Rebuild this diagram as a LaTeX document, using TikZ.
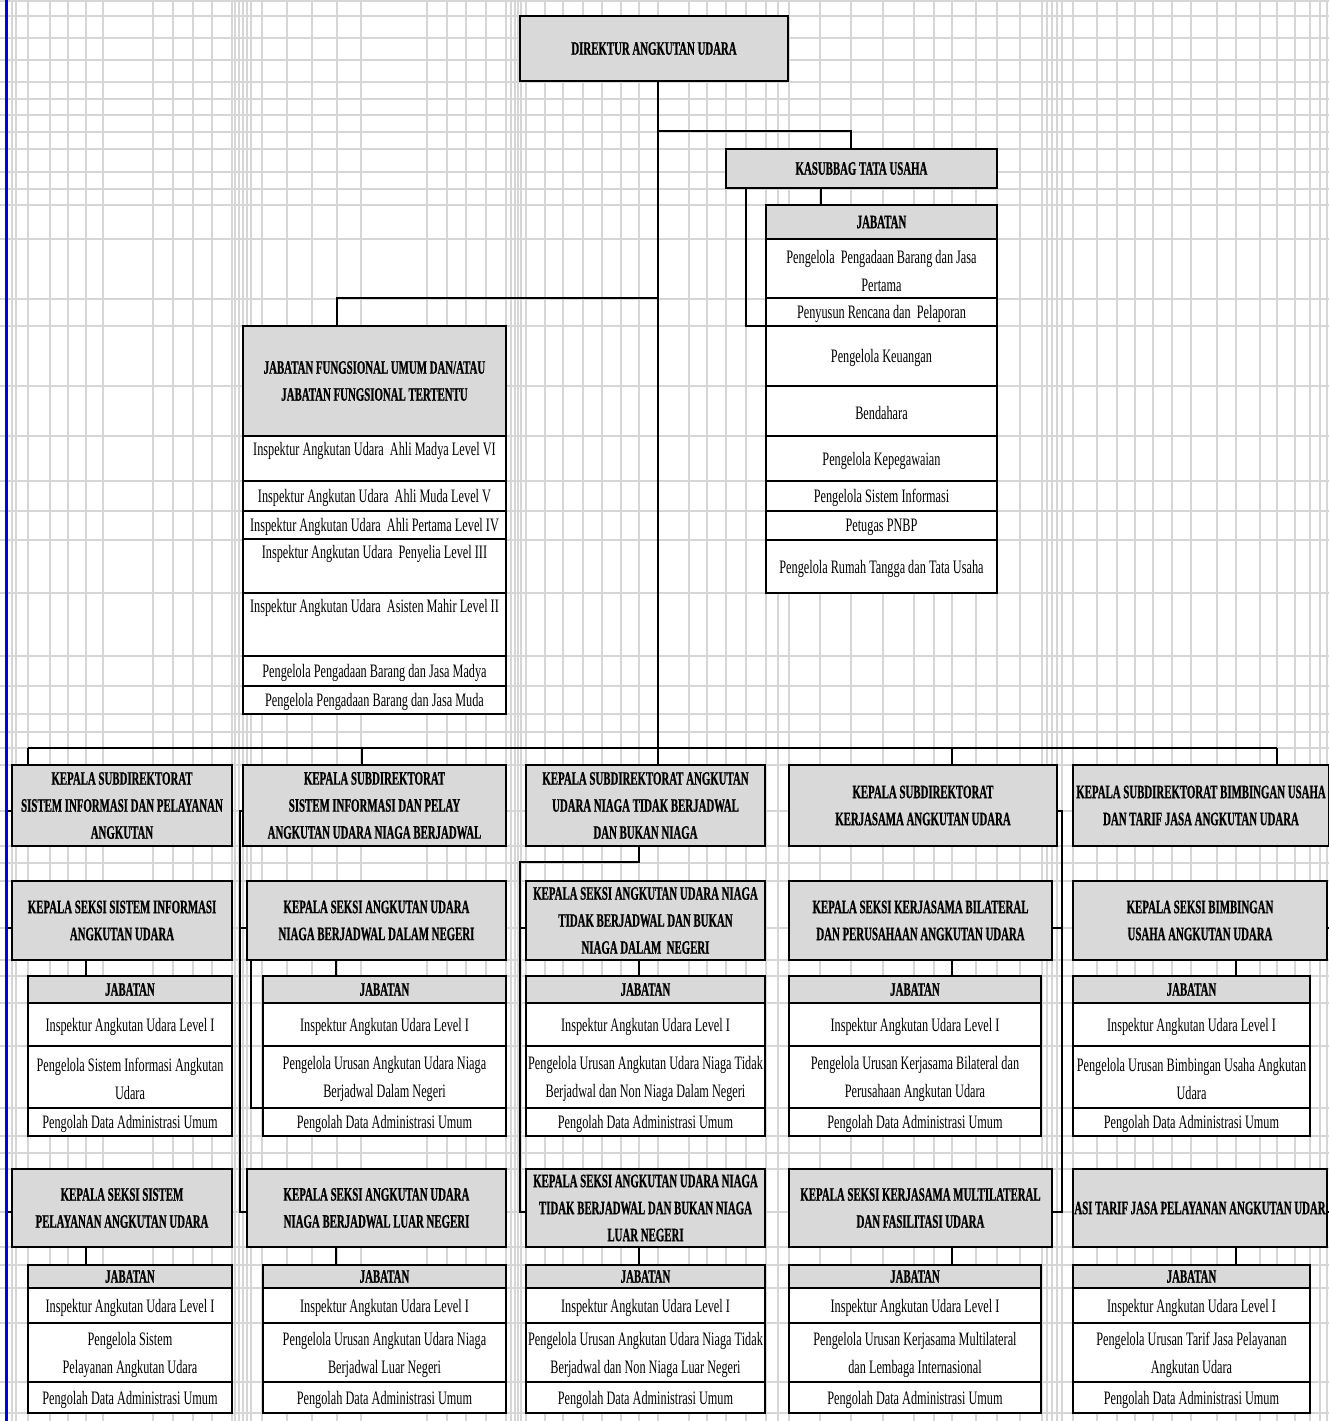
\documentclass[tikz,border=0pt]{standalone}
\usepackage{fontspec}
\setmainfont{Liberation Serif}[FakeStretch=0.645]
\newfontfamily\headfont{Liberation Serif}[FakeStretch=0.57, FakeBold=0.8]
\usetikzlibrary{fit}

\definecolor{boxgray}{RGB}{217,217,217}
\definecolor{gridgray}{RGB}{214,214,214}
\definecolor{breakblue}{RGB}{0,0,225}

\tikzset{
  gridln/.style={draw=gridgray, line width=0.6pt},
  boxbase/.style={draw=black, line width=1pt, inner sep=0pt, outer sep=0pt},
  headbox/.style={boxbase, fill=boxgray},
  itembox/.style={boxbase, fill=white},
  headtext/.style={anchor=center, inner sep=0pt, align=center,
    font=\headfont\bfseries\fontsize{9.5pt}{13.5pt}\selectfont},
  itemtext/.style={anchor=center, inner sep=0pt, align=center, yshift=-1pt,
    font=\fontsize{9.5pt}{14pt}\selectfont},
  link/.style={draw=black, line width=0.85pt},
  pagebreak/.style={draw=breakblue, line width=1.2pt},
}

% cell boxes: name, x1, y1, x2, y2 (pixel grid), text
\newcommand\orghead[6]{\node[headbox, fit={(#2,#3)(#4,#5)},
  label={[headtext]center:#6}] (#1) {};}
\newcommand\orgitem[6]{\node[itembox, fit={(#2,#3)(#4,#5)},
  label={[itemtext]center:#6}] (#1) {};}
\newcommand\orgitemtop[6]{\node[itembox, fit={(#2,#3)(#4,#5)},
  label={[itemtext, yshift=-6.5pt]north:#6}] (#1) {};}

% staff tables under the section heads
\newcommand\orgtableA[4]{%
  \orghead{#1}{#2}{976}{#3}{1003}{JABATAN}
  \orgitem{#1r1}{#2}{1003}{#3}{1046}{Inspektur Angkutan Udara Level I}
  \orgitem{#1r2}{#2}{1046}{#3}{1108}{#4}
  \orgitem{#1r3}{#2}{1108}{#3}{1136}{Pengolah Data Administrasi Umum}}
\newcommand\orgtableB[4]{%
  \orghead{#1}{#2}{1265}{#3}{1288}{JABATAN}
  \orgitem{#1r1}{#2}{1288}{#3}{1323}{Inspektur Angkutan Udara Level I}
  \orgitem{#1r2}{#2}{1323}{#3}{1382}{#4}
  \orgitem{#1r3}{#2}{1382}{#3}{1413}{Pengolah Data Administrasi Umum}}

\begin{document}
\begin{tikzpicture}[x=0.5pt, y=-0.5pt]
\useasboundingbox (0,0) rectangle (1329,1421);
\clip (0,0) rectangle (1329,1421);
\fill[white] (0,0) rectangle (1329,1421);

% worksheet grid
\foreach \gx in {12,16,28,50,68,86,103,153,173,193,212,232,235,239,243,247,251,262,
  287,312,337,361,427,447,466,486,506,511,515,518,521,526,545,563,583,602,621,639,
  658,689,707,726,746,766,778,789,820,851,883,914,934,952,976,997,1020,1042,1047,
  1052,1057,1062,1073,1097,1117,1135,1153,1172,1191,1217,1236,1260,1277,1295,1310,
  1320,1327}
  \draw[gridln] (\gx,0) -- (\gx,1421);
\foreach \gy in {1,16,38,60,82,99,115,132,149,172,189,205,239,299,326,386,436,481,
  511,540,593,656,686,714,732,748,765,811,846,863,881,928,960,976,1003,1046,1108,
  1136,1153,1169,1212,1247,1265,1288,1323,1382,1413}
  \draw[gridln] (0,\gy) -- (1329,\gy);

% director and administration
\orghead{dir}{520}{16}{788}{81}{DIREKTUR ANGKUTAN UDARA}
\orghead{kas}{726}{149}{997}{188}{KASUBBAG TATA USAHA}
\orghead{kjab}{766}{205}{997}{239}{JABATAN}
\orgitem{kr1}{766}{239}{997}{298}{Pengelola~ Pengadaan Barang dan Jasa\\Pertama}
\orgitem{kr2}{766}{298}{997}{326}{Penyusun Rencana dan~ Pelaporan}
\orgitem{kr3}{766}{326}{997}{386}{Pengelola Keuangan}
\orgitem{kr4}{766}{386}{997}{436}{Bendahara}
\orgitem{kr5}{766}{436}{997}{481}{Pengelola Kepegawaian}
\orgitem{kr6}{766}{481}{997}{511}{Pengelola Sistem Informasi}
\orgitem{kr7}{766}{511}{997}{540}{Petugas PNBP}
\orgitem{kr8}{766}{540}{997}{593}{Pengelola Rumah Tangga dan Tata Usaha}

% functional positions
\orghead{jf}{243}{326}{506}{436}{JABATAN FUNGSIONAL UMUM DAN/ATAU\\JABATAN FUNGSIONAL TERTENTU}
\orgitemtop{jf1}{243}{436}{506}{481}{Inspektur Angkutan Udara~ Ahli Madya Level VI}
\orgitem{jf2}{243}{481}{506}{511}{Inspektur Angkutan Udara~ Ahli Muda Level V}
\orgitem{jf3}{243}{511}{506}{539}{Inspektur Angkutan Udara~ Ahli Pertama Level IV}
\orgitemtop{jf4}{243}{539}{506}{593}{Inspektur Angkutan Udara~ Penyelia Level III}
\orgitemtop{jf5}{243}{593}{506}{656}{Inspektur Angkutan Udara~ Asisten Mahir Level II}
\orgitem{jf6}{243}{656}{506}{686}{Pengelola Pengadaan Barang dan Jasa Madya}
\orgitem{jf7}{243}{686}{506}{714}{Pengelola Pengadaan Barang dan Jasa Muda}

% sub-directorates
\orghead{sd1}{12}{765}{232}{846}{KEPALA SUBDIREKTORAT\\SISTEM INFORMASI DAN PELAYANAN\\ANGKUTAN}
\orghead{sd2}{243}{765}{506}{846}{KEPALA SUBDIREKTORAT\\SISTEM INFORMASI DAN PELAY\\ANGKUTAN UDARA NIAGA BERJADWAL}
\orghead{sd3}{526}{765}{765}{846}{KEPALA SUBDIREKTORAT ANGKUTAN\\UDARA NIAGA TIDAK BERJADWAL\\DAN BUKAN NIAGA}
\orghead{sd4}{789}{765}{1057}{846}{KEPALA SUBDIREKTORAT\\KERJASAMA ANGKUTAN UDARA}
\orghead{sd5}{1073}{765}{1329}{846}{KEPALA SUBDIREKTORAT BIMBINGAN USAHA\\DAN TARIF JASA ANGKUTAN UDARA}

% first sections
\orghead{ka1}{12}{881}{232}{960}{KEPALA SEKSI SISTEM INFORMASI\\ANGKUTAN UDARA}
\orghead{ka2}{247}{881}{506}{960}{KEPALA SEKSI ANGKUTAN UDARA\\NIAGA BERJADWAL DALAM NEGERI}
\orghead{ka3}{526}{881}{765}{960}{KEPALA SEKSI ANGKUTAN UDARA NIAGA\\TIDAK BERJADWAL DAN BUKAN\\NIAGA DALAM~ NEGERI}
\orghead{ka4}{789}{881}{1052}{960}{KEPALA SEKSI KERJASAMA BILATERAL\\DAN PERUSAHAAN ANGKUTAN UDARA}
\orghead{ka5}{1073}{881}{1327}{960}{KEPALA SEKSI BIMBINGAN\\USAHA ANGKUTAN UDARA}

\orgtableA{ta1}{28}{232}{Pengelola Sistem Informasi Angkutan\\Udara}
\orgtableA{ta2}{263}{506}{Pengelola Urusan Angkutan Udara Niaga\\Berjadwal Dalam Negeri}
\orgtableA{ta3}{526}{765}{Pengelola Urusan Angkutan Udara Niaga Tidak\\Berjadwal dan Non Niaga Dalam Negeri}
\orgtableA{ta4}{789}{1041}{Pengelola Urusan Kerjasama Bilateral dan\\Perusahaan Angkutan Udara}
\orgtableA{ta5}{1073}{1310}{Pengelola Urusan Bimbingan Usaha Angkutan\\Udara}

% second sections
\orghead{kb1}{12}{1169}{232}{1247}{KEPALA SEKSI SISTEM\\PELAYANAN ANGKUTAN UDARA}
\orghead{kb2}{247}{1169}{506}{1247}{KEPALA SEKSI ANGKUTAN UDARA\\NIAGA BERJADWAL LUAR NEGERI}
\orghead{kb3}{526}{1169}{765}{1247}{KEPALA SEKSI ANGKUTAN UDARA NIAGA\\TIDAK BERJADWAL DAN BUKAN NIAGA\\LUAR NEGERI}
\orghead{kb4}{789}{1169}{1052}{1247}{KEPALA SEKSI KERJASAMA MULTILATERAL\\DAN FASILITASI UDARA}
\orghead{kb5}{1073}{1169}{1327}{1247}{}
\begin{scope}
  \clip (kb5.north west) rectangle (kb5.south east);
  \node[headtext] (kb5txt) at (kb5.center) {ASI TARIF JASA PELAYANAN ANGKUTAN UDAR};
\end{scope}

\orgtableB{tb1}{28}{232}{Pengelola Sistem\\Pelayanan Angkutan Udara}
\orgtableB{tb2}{263}{506}{Pengelola Urusan Angkutan Udara Niaga\\Berjadwal Luar Negeri}
\orgtableB{tb3}{526}{765}{Pengelola Urusan Angkutan Udara Niaga Tidak\\Berjadwal dan Non Niaga Luar Negeri}
\orgtableB{tb4}{789}{1041}{Pengelola Urusan Kerjasama Multilateral\\dan Lembaga Internasional}
\orgtableB{tb5}{1073}{1310}{Pengelola Urusan Tarif Jasa Pelayanan\\Angkutan Udara}

% connectors: director, administration, functional positions
\coordinate (mainx) at (658,0);
\draw[link] (dir.south -| mainx) -- (sd3.north -| mainx);
\coordinate (kasx) at (851,131);
\draw[link] (mainx |- kasx) -- (kasx) -- (kasx |- kas.north);
\coordinate (kjx) at (821,0);
\draw[link] (kas.south -| kjx) -- (kjab.north -| kjx);
\coordinate (kbx) at (746,0);
\draw[link] (kas.south -| kbx) |- (kr2.south west);
\coordinate (jfx) at (337,298);
\draw[link] (mainx |- jfx) -- (jfx) -- (jfx |- jf.north);

% bus to the sub-directorates
\coordinate (bus1) at (28,748);
\coordinate (bus2) at (362,748);
\coordinate (bus4) at (952,748);
\coordinate (bus5) at (1277,748);
\draw[link] (bus1) -- (bus5);
\foreach \i in {1,2,4,5}
  \draw[link] (bus\i) -- (bus\i |- sd\i.north);

% sub-directorate to section brackets
\coordinate (ry1) at (0,811);
\coordinate (ry2) at (0,928);
\coordinate (ry3) at (0,1212);
\coordinate (c1x) at (7,0);
\draw[link] (sd1.west |- ry1) -- (c1x |- ry1) -- (c1x |- ry3) -- (kb1.west |- ry3);
\draw[link] (c1x |- ry2) -- (ka1.west |- ry2);
\coordinate (c2x) at (240,0);
\draw[link] (sd2.west |- ry1) -- (c2x |- ry1) -- (c2x |- ry3) -- (kb2.west |- ry3);
\draw[link] (c2x |- ry2) -- (ka2.west |- ry2);
\coordinate (c2y) at (251,0);
\draw[link] (ka2.south -| c2y) |- (ta2r2.south west);
\coordinate (d3x) at (639,0);
\coordinate (c3x) at (520,862);
\draw[link] (sd3.south -| d3x) |- (c3x) |- (kb3.west |- ry3);
\draw[link] (c3x |- ry2) -- (ka3.west |- ry2);
\coordinate (c4x) at (1062,0);
\draw[link] (sd4.east |- ry1) -- (c4x |- ry1) -- (c4x |- ry3) -- (kb4.east |- ry3);
\draw[link] (c4x |- ry2) -- (ka4.east |- ry2);
\coordinate (c5x) at (1338,0);
\draw[link] (sd5.east |- ry1) -- (c5x |- ry1) -- (c5x |- ry3) -- (kb5.east |- ry3);
\draw[link] (c5x |- ry2) -- (ka5.east |- ry2);

% section heads to their staff tables
\coordinate (j1) at (86,0);
\coordinate (j2) at (336,0);
\coordinate (j3) at (639,0);
\coordinate (j4) at (952,0);
\coordinate (j5) at (1236,0);
\foreach \i in {1,...,5} {
  \draw[link] (ka\i.south -| j\i) -- (ta\i.north -| j\i);
  \draw[link] (kb\i.south -| j\i) -- (tb\i.north -| j\i);
}

% page break marker
\draw[pagebreak] (6.5,0) -- (6.5,1421);
\end{tikzpicture}
\end{document}
